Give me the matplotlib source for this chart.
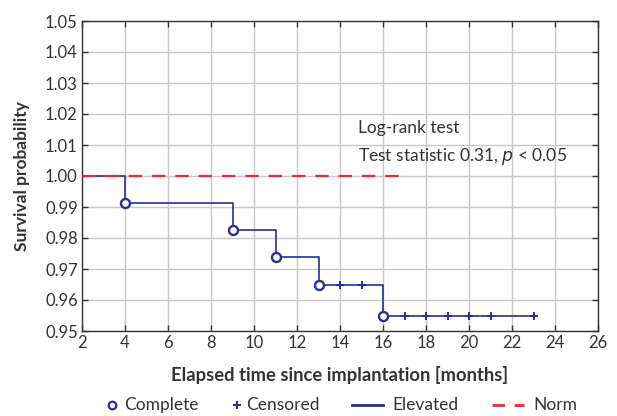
import matplotlib
matplotlib.use("Agg")
import matplotlib.pyplot as plt
from matplotlib.lines import Line2D

plt.rcParams['font.family'] = ['Lato', 'DejaVu Sans']

# Kaplan-Meier estimate for the elevated group
event_times = [4, 9, 11, 13, 16]
event_surv = [0.9914, 0.9827, 0.9738, 0.9650, 0.9550]
censored_times = [14, 15, 17, 18, 19, 20, 21, 23]
curve_end = 23

# Norm group stays at 1.0 throughout follow-up
norm_times = [2, 17]
norm_surv = [1.0, 1.0]

xticks = list(range(2, 27, 2))
yticks = [0.95, 0.96, 0.97, 0.98, 0.99, 1.00, 1.01, 1.02, 1.03, 1.04, 1.05]
legend_labels = ['Complete', 'Censored', 'Elevated', 'Norm']

blue = '#2b2f8f'
red = '#ee2a2f'
text_c = '#333333'

W, H = 617, 416
fig = plt.figure(figsize=(W / 100, H / 100), dpi=100)
ax = fig.add_axes([82 / W, 1 - 331 / H, 516 / W, 310 / H])

# build step curve
xs = [2]
ys = [1.0]
prev = 1.0
for t, s in zip(event_times, event_surv):
    xs += [t, t]
    ys += [prev, s]
    prev = s
xs.append(curve_end)
ys.append(prev)

ax.plot(xs, ys, color=blue, lw=1.2, zorder=3)
ax.plot(norm_times, norm_surv, color=red, lw=1.6, dashes=(6, 4.5), zorder=4)


def surv_at(t):
    s = 1.0
    for et, es in zip(event_times, event_surv):
        if et <= t:
            s = es
    return s


ax.plot(event_times, event_surv, 'o', ms=6.5, mfc='white', mec=blue, mew=1.7, zorder=5)
ax.plot(censored_times, [surv_at(t) for t in censored_times], '+', ms=6,
        mec=blue, mew=1.4, zorder=5)

ax.set_xlim(2, 26)
ax.set_ylim(0.95, 1.05)
ax.set_xticks(xticks)
ax.set_yticks(yticks)
ax.set_xticklabels([str(t) for t in xticks])
ax.set_yticklabels([f'{v:.2f}' for v in yticks])
ax.grid(True, color='#c8c8c8', lw=1.0, zorder=0)
ax.set_axisbelow(True)
ax.tick_params(direction='in', top=True, right=True, length=4, width=1.0,
               color='#333333', labelsize=12, labelcolor=text_c, pad=3)
for sp in ax.spines.values():
    sp.set_color('#333333')
    sp.set_linewidth(1.0)

ax.set_xlabel('Elapsed time since implantation [months]', fontsize=13.2,
              fontweight='bold', color=text_c, va='center')
ax.xaxis.set_label_coords(0.5, -0.142)
ax.set_ylabel('Survival probability', fontsize=12.5, fontweight='bold',
              color=text_c, va='center')
ax.yaxis.set_label_coords(-60 / 516, 0.5)

ax.text(14.84, 1.0155, 'Log-rank test', fontsize=12.5, color=text_c, va='center')
ax.text(14.84, 1.0062, 'Test statistic 0.31, $\\it{p}$ < 0.05', fontsize=12.5,
        color=text_c, va='center')

# legend row beneath the axis label
ly = 1 - 405 / H
fig.add_artist(Line2D([112 / W], [ly], ls='none', marker='o', ms=5.5, mfc='white',
                      mec=blue, mew=1.6, transform=fig.transFigure))
fig.add_artist(Line2D([237 / W], [ly], ls='none', marker='+', ms=5.5, mec=blue,
                      mew=1.5, transform=fig.transFigure))
fig.add_artist(Line2D([352 / W, 383 / W], [ly, ly], color=blue, lw=2.0,
                      transform=fig.transFigure))
fig.add_artist(Line2D([492 / W, 524 / W], [ly, ly], color=red, lw=2.0,
                      dashes=(4.5, 3.5), transform=fig.transFigure))
for x0, lab in zip([124, 246, 392, 533], legend_labels):
    fig.text(x0 / W, ly, lab, fontsize=12.5, color=text_c, va='center', ha='left')

fig.savefig('out.png', dpi=100)
